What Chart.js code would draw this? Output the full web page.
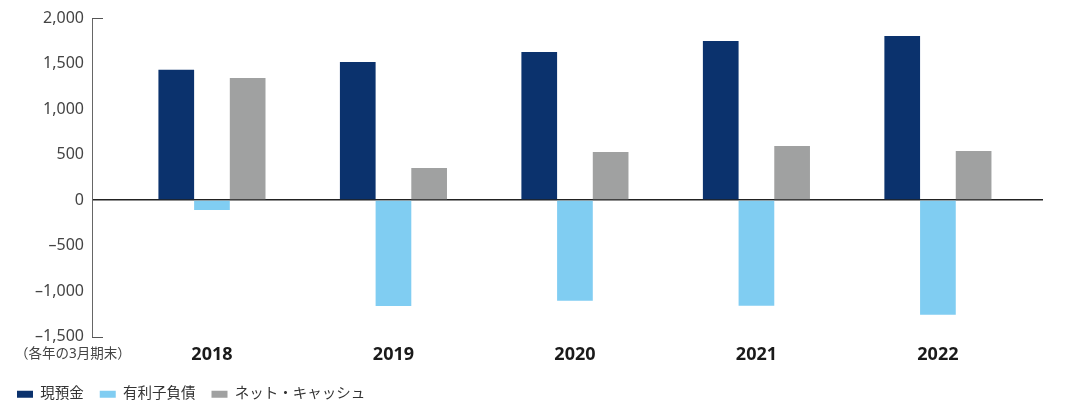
<!DOCTYPE html>
<html>
<head>
<meta charset="utf-8">
<script src="https://cdn.jsdelivr.net/npm/chart.js@4"></script>
<style>
html, body { margin: 0; padding: 0; background: #fff; }
#wrap { width: 1073px; height: 402px; }
</style>
</head>
<body>
<div id="wrap"><canvas id="myChart"></canvas></div>
<script>
let years = ['2018', '2019', '2020', '2021', '2022'];
let cash = [1430, 1516, 1626, 1747, 1802];
let debt = [-110, -1165, -1107, -1161, -1260];
let net_cash = [1340, 352, 527, 593, 538];
let y_ticks = [-1500, -1000, -500, 0, 500, 1000, 1500, 2000];
let series_names = ['現預金', '有利子負債', 'ネット・キャッシュ'];
let bar_colors = ['#0b326d', '#80cdf2', '#a0a1a1'];
let period_note = '（各年の3月期末）';

let font_family = "'Noto Sans', 'Noto Sans CJK JP', sans-serif";

function to_points(values) {
    let points = [];
    for (let i = 0; i < values.length; i++) {
        points.push({x: i, y: values[i]});
    }
    return points;
}

function fmt(value) {
    let s = Math.abs(value).toLocaleString('en-US');
    return value < 0 ? '–' + s : s;
}

// short end ticks on the y axis + the period note under the axis
const extras = {
    id: 'extras',
    afterDraw(chart) {
        const ctx = chart.ctx;
        const y = chart.scales.y;
        const area = chart.chartArea;
        ctx.save();
        ctx.strokeStyle = '#555';
        ctx.lineWidth = 1;
        [y.max, y.min].forEach(v => {
            let py = Math.round(y.getPixelForValue(v)) + 0.5;
            ctx.beginPath();
            ctx.moveTo(area.left, py);
            ctx.lineTo(area.left + 11, py);
            ctx.stroke();
        });
        ctx.fillStyle = '#444';
        ctx.font = '13.5px ' + font_family;
        ctx.textBaseline = 'middle';
        ctx.textAlign = 'left';
        ctx.fillText(period_note, 15, area.bottom + 18);
        ctx.restore();
    }
};

let datasets = [];
let all_values = [cash, debt, net_cash];
for (let i = 0; i < all_values.length; i++) {
    datasets.push({
        label: series_names[i],
        data: to_points(all_values[i]),
        backgroundColor: bar_colors[i],
        borderWidth: 0,
        barPercentage: 1.0,
        categoryPercentage: 0.59
    });
}

let config = {
    type: 'bar',
    data: { datasets: datasets },
    options: {
        responsive: true,
        maintainAspectRatio: false,
        animation: false,
        layout: { padding: { left: 1, right: 30, top: 18, bottom: -9.5 } },
        plugins: {
            tooltip: { enabled: false },
            legend: {
                position: 'bottom',
                align: 'start',
                labels: {
                    boxWidth: 16,
                    boxHeight: 7,
                    padding: 16,
                    color: '#333',
                    font: { size: 14.5, family: font_family }
                }
            }
        },
        scales: {
            x: {
                type: 'linear',
                min: -0.661,
                max: 4.579,
                offset: false,
                grid: { display: false, drawTicks: false },
                border: { display: false },
                afterBuildTicks(scale) {
                    scale.ticks = years.map((yr, i) => ({ value: i }));
                },
                afterFit(scale) { scale.height = 34.5; },
                ticks: {
                    padding: 7.5,
                    color: '#1a1a1a',
                    autoSkip: false,
                    maxRotation: 0,
                    font: { size: 18, weight: 'bold', family: font_family },
                    callback(value) { return years[value]; }
                }
            },
            y: {
                min: -1500,
                max: 2000,
                afterBuildTicks(scale) {
                    scale.ticks = y_ticks.map(v => ({ value: v }));
                },
                afterFit(scale) { scale.width = 91; },
                grid: {
                    drawTicks: false,
                    lineWidth: 1.5,
                    color(context) {
                        return (context.tick && context.tick.value == 0) ? '#222' : 'rgba(0,0,0,0)';
                    }
                },
                border: { color: '#666', width: 1 },
                ticks: {
                    padding: 8,
                    color: '#444',
                    font: { size: 16, family: font_family },
                    callback(value) { return fmt(value); }
                }
            }
        }
    },
    plugins: [extras]
};

window.chart = new Chart(document.getElementById('myChart'), config);
</script>
</body>
</html>
